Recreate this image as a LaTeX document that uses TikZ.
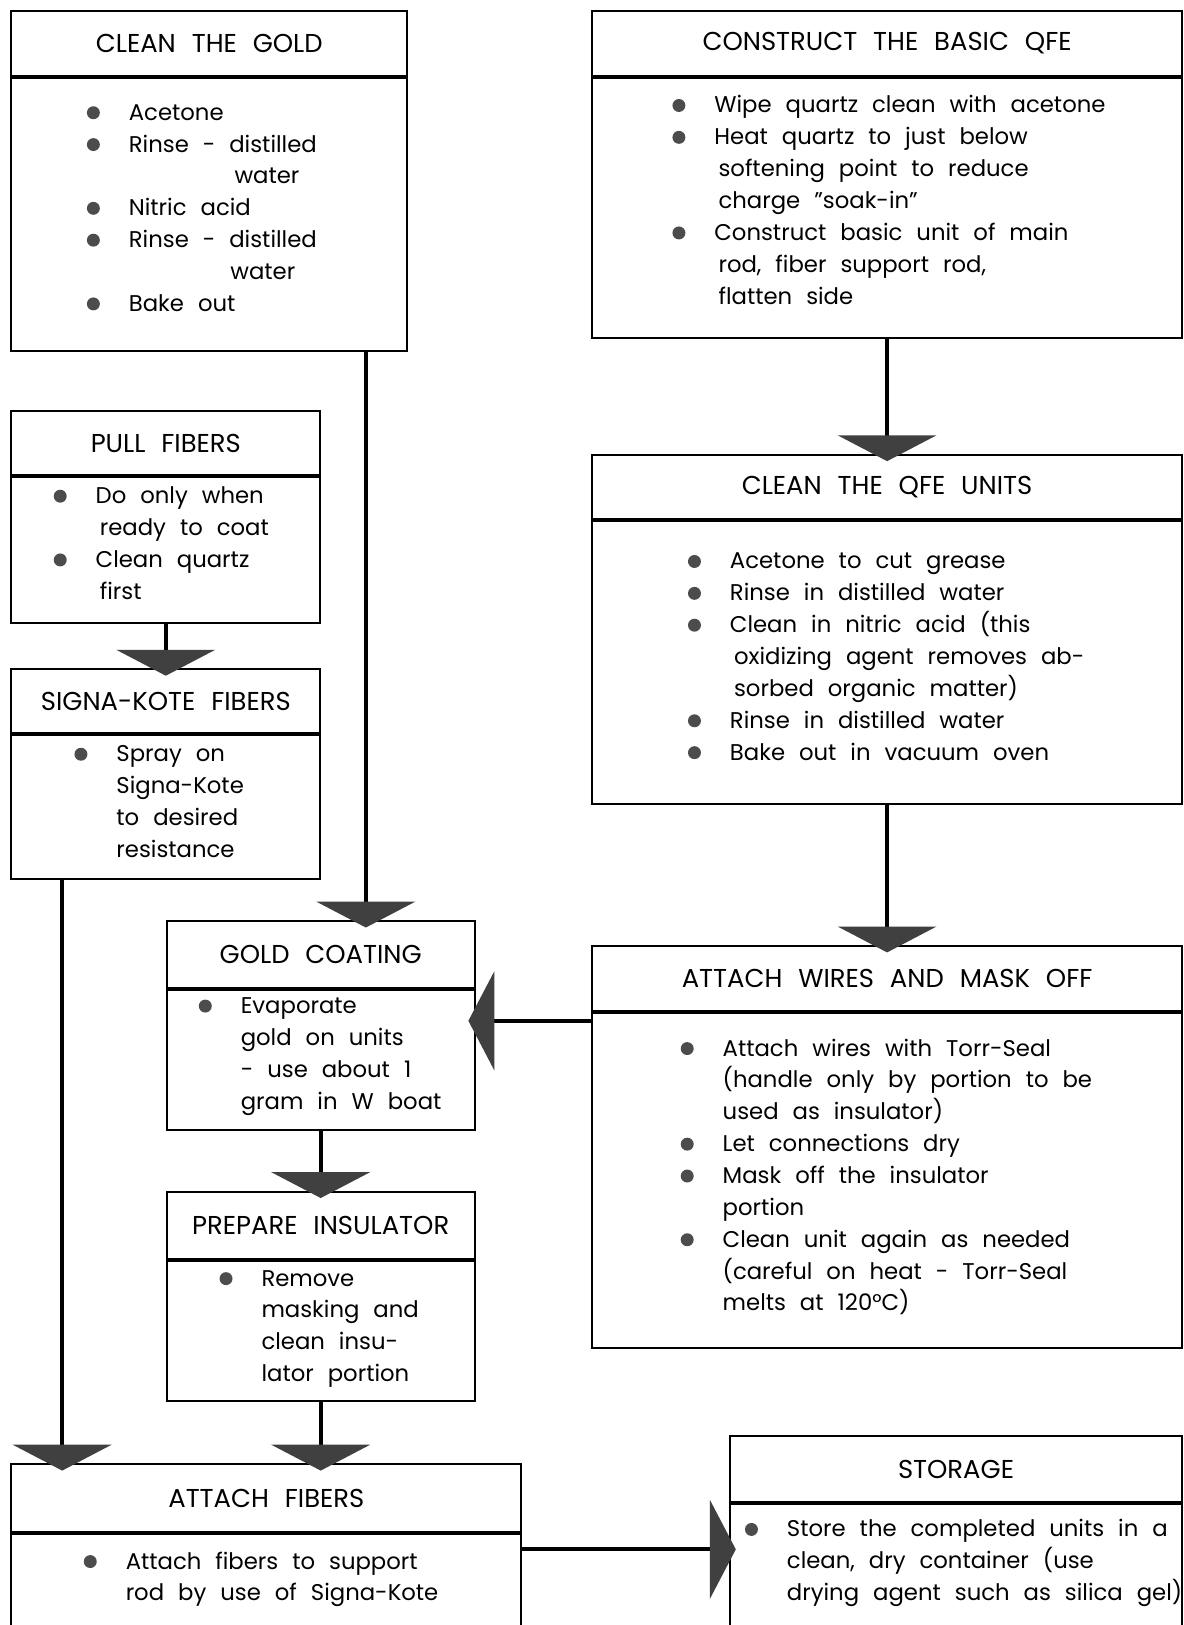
\documentclass[tikz,border=0pt]{standalone}
\usepackage{fontspec}
\setmainfont{Poppins}[WordSpace=2.3]
\usetikzlibrary{arrows.meta}

\newcommand{\upx}{0.02cm}
\newcommand{\bul}{\makebox[0.81cm][l]{\tikz[baseline=-0.6ex]\fill[black!70] (0,0) circle (0.125cm);}}
\newcommand{\cont}[1][0.81cm]{\hspace*{#1}}

\tikzset{
  stagehead/.style={draw, line width=1.1pt, anchor=north west, inner sep=0pt, font=\fontsize{14.2}{17}\selectfont},
  stagebody/.style={draw, line width=1.1pt, anchor=north west, inner sep=0pt},
  items/.style={anchor=base west, inner sep=0pt, font=\fontsize{12.5}{17.5}\selectfont},
  flow/.style={line width=2.2pt, -{Triangle[width=1.9cm,length=0.5cm,color=black!75]}, shorten >=-0.14cm}
}

\begin{document}
\begin{tikzpicture}[x=\upx, y=-\upx]
  \path[use as bounding box, fill=white] (0,0) rectangle (1142,1568);
  \clip (0,0) rectangle (1142,1568);

  % left column
  \node[stagehead, minimum width=382*\upx, minimum height=62*\upx] (goldT) at (10,10) {CLEAN THE GOLD};
  \node[stagebody, minimum width=382*\upx, minimum height=264*\upx] (goldB) at (goldT.south west) {};
  \node[items] (goldL) at (83.5,116) {\begin{tabular}[t]{@{}l@{}}
    \bul Acetone\\
    \bul Rinse - distilled\\
    \cont[2.85cm]water\\
    \bul Nitric acid\\
    \bul Rinse - distilled\\
    \cont[2.77cm]water\\
    \bul Bake out
  \end{tabular}};

  \node[stagehead, minimum width=298*\upx, minimum height=61*\upx] (pullT) at (10,396) {PULL FIBERS};
  \node[stagebody, minimum width=298*\upx, minimum height=141*\upx] (pullB) at (pullT.south west) {};
  \node[items] (pullL) at (51.5,486) {\begin{tabular}[t]{@{}l@{}}
    \bul Do only when\\
    \cont[0.89cm]ready to coat\\
    \bul Clean quartz\\
    \cont[0.89cm]first
  \end{tabular}};

  \node[stagehead, minimum width=298*\upx, minimum height=61*\upx] (signaT) at (10,645) {SIGNA-KOTE FIBERS};
  \node[stagebody, minimum width=298*\upx, minimum height=139*\upx] (signaB) at (signaT.south west) {};
  \node[items] (signaL) at (71.5,735) {\begin{tabular}[t]{@{}l@{}}
    \bul Spray on\\
    \cont Signa-Kote\\
    \cont to desired\\
    \cont resistance
  \end{tabular}};

  \node[stagehead, minimum width=297*\upx, minimum height=64*\upx] (coatT) at (160,888) {GOLD COATING};
  \node[stagebody, minimum width=297*\upx, minimum height=135*\upx] (coatB) at (coatT.south west) {};
  \node[items] (coatL) at (191.5,978) {\begin{tabular}[t]{@{}l@{}}
    \bul Evaporate\\
    \cont gold on units\\
    \cont - use about 1\\
    \cont gram in W boat
  \end{tabular}};

  \node[stagehead, minimum width=297*\upx, minimum height=65*\upx] (prepT) at (160,1149) {PREPARE INSULATOR};
  \node[stagebody, minimum width=297*\upx, minimum height=135*\upx] (prepB) at (prepT.south west) {};
  \node[items] (prepL) at (211.5,1241) {\begin{tabular}[t]{@{}l@{}}
    \bul Remove\\
    \cont masking and\\
    \cont clean insu-\\
    \cont lator portion
  \end{tabular}};

  \node[stagehead, minimum width=492*\upx, minimum height=65*\upx] (fibT) at (10,1412) {ATTACH FIBERS};
  \node[stagebody, minimum width=492*\upx, minimum height=150*\upx] (fibB) at (fibT.south west) {};
  \node[items] (fibL) at (80.5,1514) {\begin{tabular}[t]{@{}l@{}}
    \bul Attach fibers to support\\
    \cont rod by use of Signa-Kote
  \end{tabular}};

  % right column
  \node[stagehead, minimum width=570*\upx, minimum height=62*\upx] (qfeT) at (570,10) {CONSTRUCT THE BASIC QFE};
  \node[stagebody, minimum width=570*\upx, minimum height=251*\upx] (qfeB) at (qfeT.south west) {};
  \node[items] (qfeL) at (648.5,109) {\begin{tabular}[t]{@{}l@{}}
    \bul Wipe quartz clean with acetone\\
    \bul Heat quartz to just below\\
    \cont[0.89cm]softening point to reduce\\
    \cont[0.89cm]charge "soak-in"\\
    \bul Construct basic unit of main\\
    \cont[0.89cm]rod, fiber support rod,\\
    \cont[0.89cm]flatten side
  \end{tabular}};

  \node[stagehead, minimum width=570*\upx, minimum height=62*\upx] (unitT) at (570,438) {CLEAN THE QFE UNITS};
  \node[stagebody, minimum width=570*\upx, minimum height=273*\upx] (unitB) at (unitT.south west) {};
  \node[items] (unitL) at (663.5,549) {\begin{tabular}[t]{@{}l@{}}
    \bul Acetone to cut grease\\
    \bul Rinse in distilled water\\
    \bul Clean in nitric acid (this\\
    \cont[0.89cm]oxidizing agent removes ab-\\
    \cont[0.89cm]sorbed organic matter)\\
    \bul Rinse in distilled water\\
    \bul Bake out in vacuum oven
  \end{tabular}};

  \node[stagehead, minimum width=570*\upx, minimum height=63*\upx] (wireT) at (570,912) {ATTACH WIRES AND MASK OFF};
  \node[stagebody, minimum width=570*\upx, minimum height=323*\upx] (wireB) at (wireT.south west) {};
  \node[items] (wireL) at (656.5,1019) {\begin{tabular}[t]{@{}l@{}}
    \bul Attach wires with Torr-Seal\\
    \cont (handle only by portion to be\\
    \cont used as insulator)\\
    \bul Let connections dry\\
    \bul Mask off the insulator\\
    \cont portion\\
    \bul Clean unit again as needed\\
    \cont (careful on heat - Torr-Seal\\
    \cont melts at 120°C)
  \end{tabular}};

  \node[stagehead, minimum width=437*\upx, minimum height=63*\upx] (storeT) at (703,1385) {STORAGE};
  \node[stagebody, minimum width=437*\upx, minimum height=160*\upx] (storeB) at (storeT.south west) {};
  \node[items] (storeL) at (718.5,1483) {\begin{tabular}[t]{@{}l@{}}
    \bul Store the completed units in a\\
    \cont clean, dry container (use\\
    \cont drying agent such as silica gel)
  \end{tabular}};

  % flow lines
  \coordinate (goldX) at (353,0);
  \coordinate (signaX) at (60,0);
  \coordinate (wireY) at (0,985);
  \coordinate (fibY) at (0,1495);
  \draw[flow] (qfeB.south) -- (unitT.north);
  \draw[flow] (unitB.south) -- (wireT.north);
  \draw[flow] (pullB.south) -- (signaT.north);
  \draw[flow] (goldB.south -| goldX) -- (coatT.north -| goldX);
  \draw[flow] (wireB.west |- wireY) -- (coatB.east |- wireY);
  \draw[flow] (coatB.south) -- (prepT.north);
  \draw[flow] (prepB.south) -- (fibT.north -| prepB.south);
  \draw[flow] (signaB.south -| signaX) -- (fibT.north -| signaX);
  \draw[flow] (fibB.east |- fibY) -- (storeB.west |- fibY);
\end{tikzpicture}
\end{document}
